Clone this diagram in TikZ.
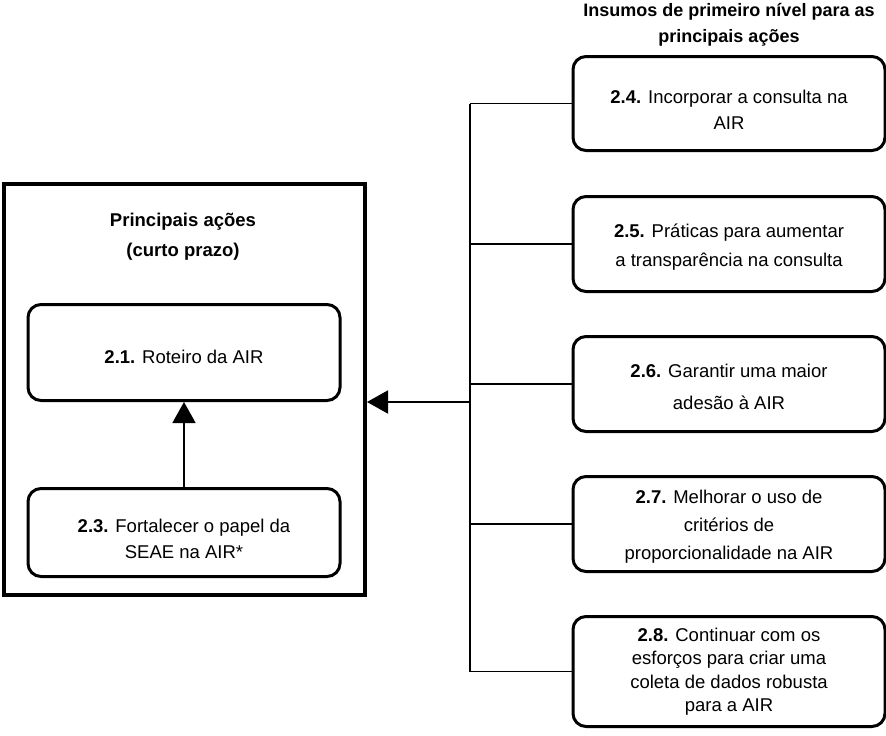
\documentclass[tikz,border=0pt]{standalone}
\usepackage{fontspec}
\setmainfont{Liberation Sans}
\usetikzlibrary{arrows.meta}
\newcommand{\dnrule}[1]{\rule{0pt}{#1pt}}
\tikzset{
  rbox/.style={draw=black, line width=3pt, rounded corners=13pt, fill=white,
    minimum width=312pt, inner sep=0pt, align=center,
    font=\fontsize{18.5}{26}\selectfont},
  headtxt/.style={align=center, font=\fontsize{18.5}{28}\selectfont\bfseries},
  conn/.style={draw=black, line width=1.6pt},
  arr/.style={draw=black, line width=1.8pt, -{Triangle[width=23pt,length=21pt]}},
}
\begin{document}
\begin{tikzpicture}[x=1pt,y=-1pt]
\useasboundingbox (0,0) rectangle (886,736);
% left main box
\node[draw=black, line width=4pt, minimum width=361pt, minimum height=411pt, inner sep=0pt] (big) at (184.5,389.5) {};
\node[headtxt, align=center] (hl) at (183,237) {Principais ações\\[2pt](curto prazo)};
\node[rbox, minimum height=96pt] (b21) at (184,352.5) {\dnrule{21.5}\textbf{2.1.} Roteiro da AIR};
\node[rbox, minimum height=88pt] (b23) at (184,532.5) {\dnrule{25.5}\textbf{2.3.} Fortalecer o papel da\\SEAE na AIR*};
\draw[arr] (b23.north) -- (b21.south);
% right column
\node[headtxt, font=\fontsize{18}{26}\selectfont\bfseries] (hr) at (729,25) {Insumos de primeiro nível para as\\principais ações};
\node[rbox, minimum height=94pt] (b24) at (729,103.5) {\dnrule{25.5}\textbf{2.4.} Incorporar a consulta na\\AIR};
\node[rbox, minimum height=95pt, font=\fontsize{18.5}{29}\selectfont] (b25) at (729,244) {\dnrule{20}\textbf{2.5.} Práticas para aumentar\\a transparência na consulta};
\node[rbox, minimum height=95pt, font=\fontsize{18.5}{32}\selectfont] (b26) at (729,384) {\dnrule{19.5}\textbf{2.6.} Garantir uma maior\\adesão à AIR};
\node[rbox, minimum height=95pt, font=\fontsize{18.5}{28}\selectfont] (b27) at (729,524) {\dnrule{19.5}\textbf{2.7.} Melhorar o uso de\\critérios de\\proporcionalidade na AIR};
\node[rbox, minimum height=110pt, font=\fontsize{18.5}{23.5}\selectfont] (b28) at (729,671.5) {\textbf{2.8.} Continuar com os\\esforços para criar uma\\coleta de dados robusta\\para a AIR};
% connectors
\coordinate (vx) at (470,0);
\coordinate (am) at (470,402);
\draw[conn] (vx |- b24.west) -- (vx |- b28.west);
\draw[conn] (vx |- b24.west) -- (b24.west);
\draw[conn] (vx |- b25.west) -- (b25.west);
\draw[conn] (vx |- b26.west) -- (b26.west);
\draw[conn] (vx |- b27.west) -- (b27.west);
\draw[conn] (vx |- b28.west) -- (b28.west);
\draw[arr] (am) -- (big.east |- am);
\end{tikzpicture}
\end{document}
